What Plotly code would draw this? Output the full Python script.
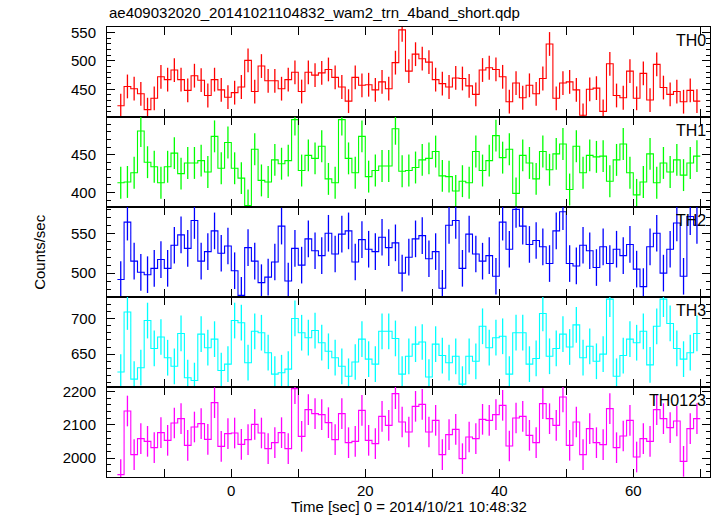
import numpy as np
import plotly.graph_objects as go
from plotly.subplots import make_subplots

# ---- data ----
bin_start = -17.0   # left edge of first 1-s bin [sec]
bin_width = 1.0

th0 = [421, 455, 451, 442, 414, 434, 472, 467, 484, 467,
       448, 474, 466, 439, 467, 449, 436, 444, 454, 501,
       446, 491, 465, 465, 451, 467, 480, 446, 480, 475,
       479, 485, 471, 454, 429, 471, 457, 458, 449, 463,
       451, 497, 555, 482, 512, 504, 498, 467, 460, 454,
       470, 469, 456, 441, 484, 488, 485, 472, 428, 461,
       435, 457, 442, 469, 530, 434, 461, 463, 449, 404,
       450, 452, 411, 495, 439, 435, 482, 434, 478, 431,
       494, 453, 441, 446, 428, 448, 429]

th1 = [413, 414, 426, 481, 440, 434, 413, 434, 452, 425,
       439, 439, 442, 427, 474, 432, 466, 432, 419, 383,
       457, 416, 414, 443, 438, 442, 496, 429, 449, 445,
       461, 418, 413, 496, 445, 426, 474, 421, 429, 435,
       435, 484, 428, 429, 433, 443, 445, 454, 422, 421,
       402, 415, 413, 454, 429, 442, 475, 446, 457, 399,
       449, 439, 418, 454, 430, 451, 464, 404, 461, 426,
       449, 447, 448, 415, 443, 464, 426, 397, 414, 451,
       413, 439, 427, 443, 423, 439, 448]

th2 = [492, 564, 515, 501, 498, 506, 517, 506, 535, 548,
       531, 566, 515, 527, 553, 525, 534, 503, 472, 532,
       515, 488, 495, 514, 559, 490, 531, 510, 543, 528,
       522, 550, 524, 549, 553, 514, 542, 530, 527, 545,
       532, 538, 500, 520, 543, 547, 518, 527, 481, 560,
       566, 506, 549, 524, 515, 522, 496, 564, 530, 580,
       559, 536, 541, 533, 512, 553, 577, 512, 509, 535,
       528, 507, 533, 512, 530, 522, 536, 505, 483, 533,
       550, 500, 530, 563, 496, 571, 560]

th3 = [625, 709, 615, 631, 697, 658, 674, 645, 633, 679,
       617, 613, 678, 659, 671, 627, 636, 697, 694, 638,
       682, 680, 652, 622, 624, 629, 700, 680, 673, 683,
       666, 654, 645, 633, 619, 639, 671, 643, 636, 682,
       682, 672, 622, 647, 664, 667, 618, 664, 648, 638,
       647, 608, 647, 640, 689, 659, 673, 675, 622, 680,
       680, 636, 644, 707, 647, 658, 678, 660, 691, 645,
       661, 640, 650, 727, 619, 648, 671, 666, 682, 635,
       689, 727, 693, 658, 643, 652, 679]

th0123 = [1950, 2141, 2010, 2058, 2050, 2031, 2076, 2053, 2105, 2118,
          2038, 2093, 2103, 2056, 2166, 2035, 2073, 2075, 2041, 2055,
          2101, 2075, 2028, 2046, 2076, 2028, 2208, 2065, 2145, 2133,
          2130, 2106, 2055, 2133, 2046, 2050, 2143, 2053, 2043, 2125,
          2098, 2193, 2108, 2078, 2155, 2161, 2078, 2113, 2010, 2070,
          2086, 1998, 2063, 2058, 2116, 2113, 2130, 2158, 2036, 2120,
          2125, 2068, 2046, 2163, 2118, 2098, 2183, 2038, 2108, 2010,
          2088, 2046, 2040, 2148, 2031, 2066, 2113, 2003, 2058, 2050,
          2145, 2118, 2091, 2111, 1990, 2088, 2118]

# approximate 1-sigma error bar half-lengths
errors = {"TH0": 21, "TH1": 21, "TH2": 23, "TH3": 25, "TH0123": 46}

panel_names = ["TH0", "TH1", "TH2", "TH3", "TH0123"]
panel_values = [th0, th1, th2, th3, th0123]
panel_colors = ["#ff0000", "#00ff00", "#0000ff", "#00ffff", "#ff00ff"]
panel_ranges = [[401, 560], [381, 499.5], [470, 583], [604, 730], [1943, 2213]]
panel_dtick = [50, 50, 50, 50, 100]
panel_minor = [10, 10, 10, 10, 20]

x_tickvals = [-10, 0, 10, 20, 30, 40, 50, 60, 70]
x_ticktext = ["", "0", "", "20", "", "40", "", "60", ""]
x_range = [-18.55, 71.45]

title_text = "ae409032020_20141021104832_wam2_trn_4band_short.qdp"
ylabel = "Counts/sec"
xlabel = "Time [sec] 0 = 2014/10/21 10:48:32"

FONT = "Liberation Sans, Arial, Helvetica, sans-serif"

fig = make_subplots(rows=5, cols=1, shared_xaxes=True, vertical_spacing=0)

for i, (name, vals, col) in enumerate(zip(panel_names, panel_values, panel_colors)):
    n = len(vals)
    edges = bin_start + bin_width * np.arange(n + 1)
    centers = edges[:-1] + bin_width / 2.0
    step_y = list(vals) + [vals[-1]]
    fig.add_trace(go.Scatter(x=edges, y=step_y, mode="lines", line_shape="hv",
                             line=dict(color=col, width=1.1), hoverinfo="skip",
                             showlegend=False), row=i + 1, col=1)
    fig.add_trace(go.Scatter(x=centers, y=vals, mode="markers",
                             marker=dict(size=1, color=col, opacity=0),
                             error_y=dict(type="constant", value=errors[name],
                                          width=0, thickness=1.3, color=col),
                             showlegend=False), row=i + 1, col=1)
    fig.update_yaxes(range=panel_ranges[i], dtick=panel_dtick[i], tick0=0,
                     ticks="inside", ticklen=8, tickcolor="black", tickwidth=1,
                     minor=dict(dtick=panel_minor[i], tick0=0, ticks="inside",
                                ticklen=4, tickcolor="black", showgrid=False),
                     showline=True, linecolor="black", linewidth=1,
                     mirror="allticks", showgrid=False, zeroline=False,
                     ticklabelstandoff=7,
                     tickfont=dict(family=FONT, size=15, color="black"),
                     row=i + 1, col=1)
    fig.update_xaxes(range=x_range, tickvals=x_tickvals, ticktext=x_ticktext,
                     ticks="inside", ticklen=8, tickcolor="black", tickwidth=1,
                     showline=True, linecolor="black", linewidth=1,
                     mirror="allticks", showgrid=False, zeroline=False,
                     showticklabels=(i == 4),
                     tickfont=dict(family=FONT, size=15, color="black"),
                     row=i + 1, col=1)
    yref = "y domain" if i == 0 else f"y{i + 1} domain"
    fig.add_annotation(text=name, xref="paper", yref=yref, x=0.996, y=0.97,
                       xanchor="right", yanchor="top", showarrow=False,
                       font=dict(family=FONT, size=16, color="black"))

fig.add_annotation(text=title_text, xref="paper", yref="paper", x=0.0, y=1.0,
                   xanchor="left", yanchor="bottom", yshift=4, showarrow=False,
                   font=dict(family=FONT, size=15, color="black"))
fig.add_annotation(text=ylabel, xref="paper", yref="paper", x=-0.113, y=0.5,
                   xanchor="center", yanchor="middle", textangle=-90,
                   showarrow=False, font=dict(family=FONT, size=15, color="black"))
fig.add_annotation(text=xlabel, xref="paper", yref="paper", x=0.5, y=0,
                   xanchor="center", yanchor="top", yshift=-19,
                   showarrow=False, font=dict(family=FONT, size=15, color="black"))

fig.update_layout(width=717, height=516,
                  margin=dict(l=107, r=7, t=27, b=39, pad=0),
                  paper_bgcolor="white", plot_bgcolor="white",
                  font=dict(family=FONT, size=15, color="black"))

fig.write_html("out.html", config={"displayModeBar": False},
               post_script="document.body.style.margin='0px';document.body.style.overflow='hidden';")
